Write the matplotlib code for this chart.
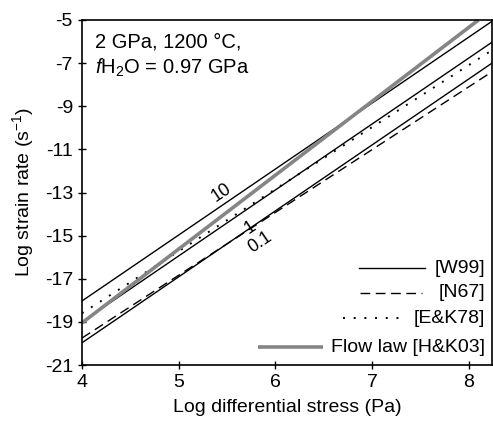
import matplotlib
matplotlib.use('Agg')
import matplotlib.pyplot as plt

# 글꼴 설정 (Arial 비슷한 Liberation Sans)
matplotlib.rcParams['font.family'] = ['Liberation Sans', 'DejaVu Sans']
matplotlib.rcParams['mathtext.fontset'] = 'custom'
matplotlib.rcParams['mathtext.rm'] = 'Liberation Sans'
matplotlib.rcParams['mathtext.it'] = 'Liberation Sans:italic'
matplotlib.rcParams['axes.unicode_minus'] = False

# 데이터: 양 끝점 (log 차응력, log 변형률)
stress_x = [4.0, 8.24]
w99_10 = [-18.03, -5.06]
w99_1 = [-19.0, -6.03]
w99_01 = [-19.97, -7.0]
n67 = [-19.75, -7.4]
ek78 = [-18.6, -6.4]
flow_x = [4.0, 8.1]
flow_law = [-19.05, -5.0]

w99_labels = ['10', '1', '0.1']
label_x = [5.447, 5.74, 5.84]
label_y = [-13.02, -14.62, -15.3]

xticks = [4, 5, 6, 7, 8]
yticks = [-21, -19, -17, -15, -13, -11, -9, -7, -5]

fig = plt.figure(figsize=(4.93, 4.26), dpi=100)
ax = fig.add_axes([82 / 493, 61 / 426, 410 / 493, 345 / 426])

black_lw = 1.0
ax.plot(stress_x, w99_10, color='black', lw=black_lw)
ax.plot(stress_x, w99_1, color='black', lw=black_lw)
ax.plot(stress_x, w99_01, color='black', lw=black_lw)
ax.plot(stress_x, n67, color='black', lw=black_lw, linestyle=(0, (7, 4)))
ax.plot(stress_x, ek78, color='black', lw=1.4, linestyle=(0, (1, 4.5)))
ax.plot(flow_x, flow_law, color='#858585', lw=2.6, solid_capstyle='butt')

# W99 선 라벨 (10, 1, 0.1)
for lab, lx, ly in zip(w99_labels, label_x, label_y):
    ax.text(lx, ly, lab, fontsize=13, rotation=34, ha='center', va='center',
            rotation_mode='anchor')

ax.set_xlim(4, 8.24)
ax.set_ylim(-21, -5)
ax.set_xticks(xticks)
ax.set_yticks(yticks)
ax.tick_params(direction='inout', length=6, width=1, labelsize=14)
for sp in ax.spines.values():
    sp.set_linewidth(1.2)

ax.set_xlabel('Log differential stress (Pa)', fontsize=14, labelpad=6)
ax.set_ylabel(r'Log strain rate (s$^{\mathregular{-1}}$)', fontsize=14, labelpad=6)

# 조건 표시
ax.text(0.032, 0.965, '2 GPa, 1200 °C,', transform=ax.transAxes, fontsize=14.5,
        ha='left', va='top')
ax.text(0.032, 0.895, r'$f$H$_\mathregular{2}$O = 0.97 GPa', transform=ax.transAxes,
        fontsize=14.5, ha='left', va='top')

# 범례 (직접 그림: 글자 오른쪽 정렬)
legend_rows = [
    ('[W99]', 0.281, (0.676, 0.837), dict(color='black', lw=black_lw)),
    ('[N67]', 0.209, (0.678, 0.829), dict(color='black', lw=black_lw, linestyle=(0, (7, 4)))),
    ('[E&K78]', 0.136, (0.637, 0.788), dict(color='black', lw=1.4, linestyle=(0, (1, 4.5)))),
    ('Flow law [H&K03]', 0.052, (0.429, 0.588), dict(color='#858585', lw=2.6, solid_capstyle='butt')),
]
for txt, fy, (x0, x1), style in legend_rows:
    ax.plot([x0, x1], [fy, fy], transform=ax.transAxes, **style)
    ax.text(0.983, fy, txt, transform=ax.transAxes, fontsize=14, ha='right', va='center')

plt.savefig('out.png', dpi=100)
